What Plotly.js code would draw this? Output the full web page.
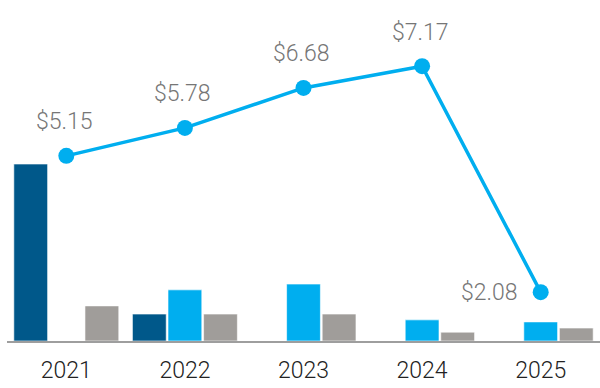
<!DOCTYPE html>
<html><head><meta charset="utf-8">
<script src="https://cdn.plot.ly/plotly-3.0.1.min.js"></script>
<style>html,body{margin:0;padding:0;background:#fff}#chart{width:600px;height:388px}</style>
</head><body><div id="chart"></div>
<script>
var years = ['2021','2022','2023','2024','2025'];
var seriesDark = [51.9, 7.9, null, null, null];
var seriesLight = [null, 15.0, 16.7, 6.2, 5.6];
var seriesGray = [10.3, 7.9, 7.9, 2.6, 3.8];
var lineValues = [5.15, 5.78, 6.68, 7.17, 2.08];
var lineLabels = ['$5.15', '$5.78', '$6.68', '$7.17', '$2.08'];

var bw = {color: 'rgba(255,255,255,0.6)', width: 1};
var traces = [
  {type: 'bar', x: years, y: seriesDark, marker: {color: '#00588A', line: bw}, hoverinfo: 'none'},
  {type: 'bar', x: years, y: seriesLight, marker: {color: '#00AEEF', line: bw}, hoverinfo: 'none'},
  {type: 'bar', x: years, y: seriesGray, marker: {color: '#A09D9A', line: bw}, hoverinfo: 'none'},
  {type: 'scatter', mode: 'lines+markers', x: years, y: lineValues, yaxis: 'y2',
   line: {color: '#00AEEF', width: 3.5}, marker: {color: '#00AEEF', size: 16}, hoverinfo: 'none', cliponaxis: false}
];

var annotations = years.map(function (yr, i) {
  var last = i === years.length - 1;
  return {
    x: i, y: lineValues[i], yref: 'y2', xref: 'x', text: lineLabels[i], showarrow: false,
    xanchor: last ? 'right' : 'center', yanchor: 'middle',
    xshift: last ? -21 : -2, yshift: last ? 0 : 34,
    font: {family: 'Roboto', size: 23, color: '#767676', weight: 300}
  };
});

var layout = {
  width: 600, height: 388,
  margin: {l: 7, r: 0, t: 0, b: 47},
  showlegend: false,
  barmode: 'group', bargap: 0.1, bargroupgap: 0.05,
  paper_bgcolor: '#fff', plot_bgcolor: '#fff',
  xaxis: {type: 'category', range: [-0.5, 4.5], showline: true, linecolor: '#9e9e9e', linewidth: 2,
          ticks: '', showgrid: false, zeroline: false, ticklabelstandoff: 7,
          tickfont: {family: 'Roboto', size: 23, color: '#222', weight: 300}},
  yaxis: {range: [0, 100], visible: false, showgrid: false, zeroline: false},
  yaxis2: {range: [0.98, 8.66], overlaying: 'y', visible: false, showgrid: false, zeroline: false},
  annotations: annotations
};

Plotly.newPlot('chart', traces, layout, {displayModeBar: false, staticPlot: true});
</script></body></html>
